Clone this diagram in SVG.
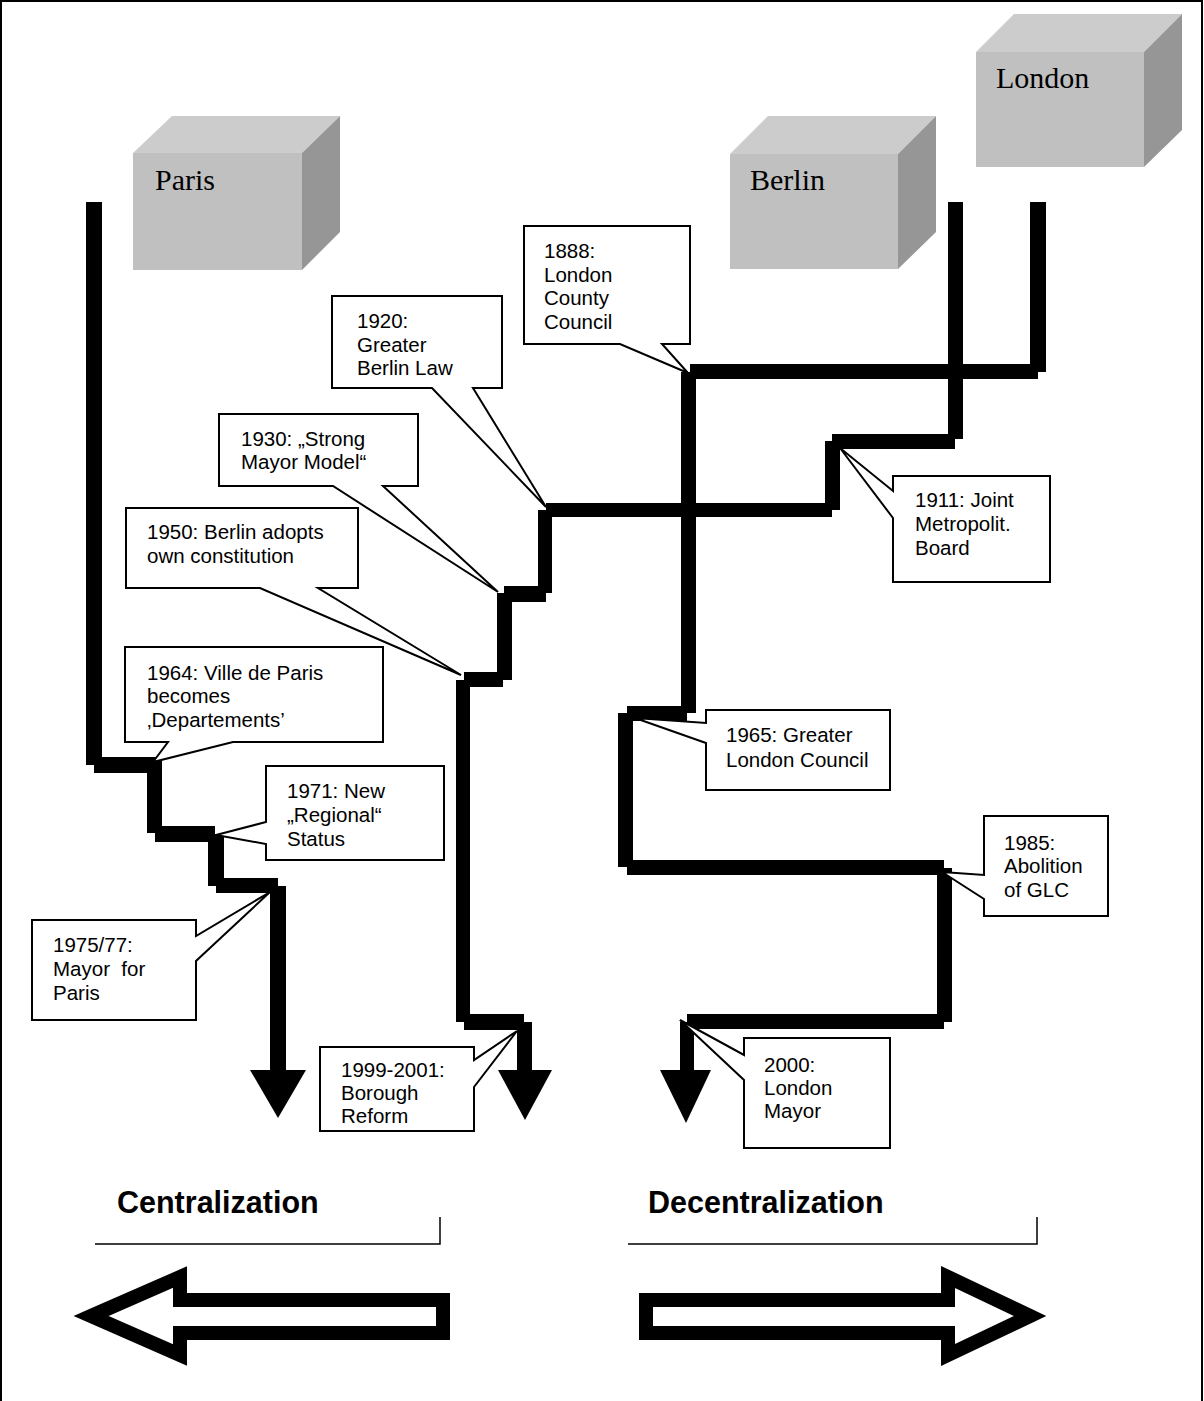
<svg xmlns="http://www.w3.org/2000/svg" width="1204" height="1401" viewBox="0 0 1204 1401">
<style>
.frame{fill:none;stroke:#000;stroke-width:2}
.front{fill:#c0c0c0}
.top{fill:#cccccc}
.side{fill:#969696}
.city{font-family:"Liberation Serif","Times New Roman",serif;font-size:30px;fill:#000}
.ln{fill:#000}
.co{fill:#fff;stroke:#000;stroke-width:2;stroke-linejoin:miter}
.t{font-family:"Liberation Sans",Arial,sans-serif;font-size:20.5px;fill:#000}
.big{font-family:"Liberation Sans",Arial,sans-serif;font-size:30.5px;font-weight:bold;fill:#000}
.rule{fill:none;stroke:#000;stroke-width:1.5}
.bigarrow{fill:#fff;stroke:#000;stroke-width:14;stroke-linejoin:miter;stroke-miterlimit:10}
</style>
<rect class="frame" x="1" y="1" width="1201" height="1420"/>

<g id="paris">
<polygon class="top" points="133,153 172,116 340,116 302,153"/>
<polygon class="side" points="302,153 340,116 340,232 302,270"/>
<rect class="front" x="133" y="153" width="169" height="117"/>
<text class="city" x="155" y="190">Paris</text>
</g>
<g id="berlin">
<polygon class="top" points="730,154 768,116 936,116 898,154"/>
<polygon class="side" points="898,154 936,116 936,232 898,269"/>
<rect class="front" x="730" y="154" width="168" height="115"/>
<text class="city" x="750" y="190">Berlin</text>
</g>
<g id="london">
<polygon class="top" points="976,52 1014,14 1182,14 1144,52"/>
<polygon class="side" points="1144,52 1182,14 1182,130 1144,167"/>
<rect class="front" x="976" y="52" width="168" height="115"/>
<text class="city" x="996" y="88">London</text>
</g>

<g id="connectors">
<g id="paris-line">
<rect class="ln" x="86" y="202" width="16" height="563"/>
<rect class="ln" x="94" y="757" width="68" height="16"/>
<rect class="ln" x="147" y="765" width="15" height="68"/>
<rect class="ln" x="155" y="826" width="60" height="16"/>
<rect class="ln" x="208" y="834" width="16" height="52"/>
<rect class="ln" x="216" y="878" width="62" height="15"/>
<rect class="ln" x="270" y="886" width="16" height="184"/>
<polygon class="ln" points="250,1070 306,1070 278,1118"/>
</g>
<g id="berlin-line">
<rect class="ln" x="948" y="202" width="15" height="237"/>
<rect class="ln" x="832" y="434" width="123" height="15"/>
<rect class="ln" x="825" y="441" width="15" height="69"/>
<rect class="ln" x="546" y="503" width="286" height="14"/>
<rect class="ln" x="538" y="510" width="14" height="83"/>
<rect class="ln" x="504" y="586" width="42" height="16"/>
<rect class="ln" x="497" y="593" width="15" height="87"/>
<rect class="ln" x="464" y="672" width="39" height="15"/>
<rect class="ln" x="456" y="680" width="14" height="342"/>
<rect class="ln" x="464" y="1014" width="60" height="16"/>
<rect class="ln" x="517" y="1022" width="15" height="48"/>
<polygon class="ln" points="498,1070 552,1070 525,1120"/>
</g>
<g id="london-line">
<rect class="ln" x="1030" y="202" width="16" height="170"/>
<rect class="ln" x="690" y="364" width="348" height="15"/>
<rect class="ln" x="681" y="372" width="15" height="341"/>
<rect class="ln" x="627" y="706" width="60" height="15"/>
<rect class="ln" x="618" y="713" width="15" height="154"/>
<rect class="ln" x="627" y="860" width="317" height="15"/>
<rect class="ln" x="937" y="868" width="15" height="154"/>
<rect class="ln" x="687" y="1014" width="257" height="15"/>
<rect class="ln" x="680" y="1022" width="14" height="48"/>
<polygon class="ln" points="660,1070 711,1070 686,1123"/>
</g>
</g>

<g id="c1888">
<path class="co" d="M524,226 H690 V344 H662 L688,373 L620,344 H524 Z"/>
<text class="t" x="544" y="258">1888:</text>
<text class="t" x="544" y="282">London</text>
<text class="t" x="544" y="305">County</text>
<text class="t" x="544" y="329">Council</text>
</g>
<g id="c1920">
<path class="co" d="M332,296 H502 V388 H473 L546,507 L432,388 H332 Z"/>
<text class="t" x="357" y="328">1920:</text>
<text class="t" x="357" y="352">Greater</text>
<text class="t" x="357" y="375">Berlin Law</text>
</g>
<g id="c1930">
<path class="co" d="M219,414 H418 V486 H383 L498,592 L333,486 H219 Z"/>
<text class="t" x="241" y="446">1930: „Strong</text>
<text class="t" x="241" y="469">Mayor Model“</text>
</g>
<g id="c1950">
<path class="co" d="M126,508 H358 V588 H318 L461,675 L260,588 H126 Z"/>
<text class="t" x="147" y="539">1950: Berlin adopts</text>
<text class="t" x="147" y="563">own constitution</text>
</g>
<g id="c1964">
<path class="co" d="M125,647 H383 V742 H233 L153,762 L168,742 H125 Z"/>
<text class="t" x="147" y="680">1964: Ville de Paris</text>
<text class="t" x="147" y="703">becomes</text>
<text class="t" x="147" y="727">‚Departements’</text>
</g>
<g id="c1971">
<path class="co" d="M266,766 H444 V860 H266 V844 L216,835 L266,822 Z"/>
<text class="t" x="287" y="798">1971: New</text>
<text class="t" x="287" y="822">„Regional“</text>
<text class="t" x="287" y="846">Status</text>
</g>
<g id="c1975">
<path class="co" d="M32,920 H196 V936 L270,892 L196,961 V1020 H32 Z"/>
<text class="t" x="53" y="952">1975/77:</text>
<text class="t" x="53" y="976" xml:space="preserve">Mayor  for</text>
<text class="t" x="53" y="1000">Paris</text>
</g>
<g id="c1999">
<path class="co" d="M320,1047 H474 V1060 L517,1031 L474,1087 V1131 H320 Z"/>
<text class="t" x="341" y="1077">1999-2001:</text>
<text class="t" x="341" y="1100">Borough</text>
<text class="t" x="341" y="1123">Reform</text>
</g>
<g id="c1911">
<path class="co" d="M893,476 H1050 V582 H893 V518 L840,448 L893,491 Z"/>
<text class="t" x="915" y="507">1911: Joint</text>
<text class="t" x="915" y="531">Metropolit.</text>
<text class="t" x="915" y="555">Board</text>
</g>
<g id="c1965">
<path class="co" d="M706,710 H890 V790 H706 V743 L635,718 L706,723 Z"/>
<text class="t" x="726" y="742">1965: Greater</text>
<text class="t" x="726" y="767">London Council</text>
</g>
<g id="c1985">
<path class="co" d="M984,816 H1108 V916 H984 V899 L942,872 L984,875 Z"/>
<text class="t" x="1004" y="850">1985:</text>
<text class="t" x="1004" y="873">Abolition</text>
<text class="t" x="1004" y="897">of GLC</text>
</g>
<g id="c2000">
<path class="co" d="M744,1038 H890 V1148 H744 V1080 L680,1020 L744,1055 Z"/>
<text class="t" x="764" y="1072">2000:</text>
<text class="t" x="764" y="1095">London</text>
<text class="t" x="764" y="1118">Mayor</text>
</g>

<g id="centralization">
<text class="big" x="117" y="1213">Centralization</text>
<polyline class="rule" points="95,1244 440,1244 440,1217"/>
<polygon class="bigarrow" points="91,1316 180,1277 180,1300 443,1300 443,1333 180,1333 180,1355"/>
</g>
<g id="decentralization">
<text class="big" x="648" y="1213">Decentralization</text>
<polyline class="rule" points="628,1244 1037,1244 1037,1217"/>
<polygon class="bigarrow" points="646,1300 948,1300 948,1277 1030,1316 948,1355 948,1333 646,1333"/>
</g>
</svg>
